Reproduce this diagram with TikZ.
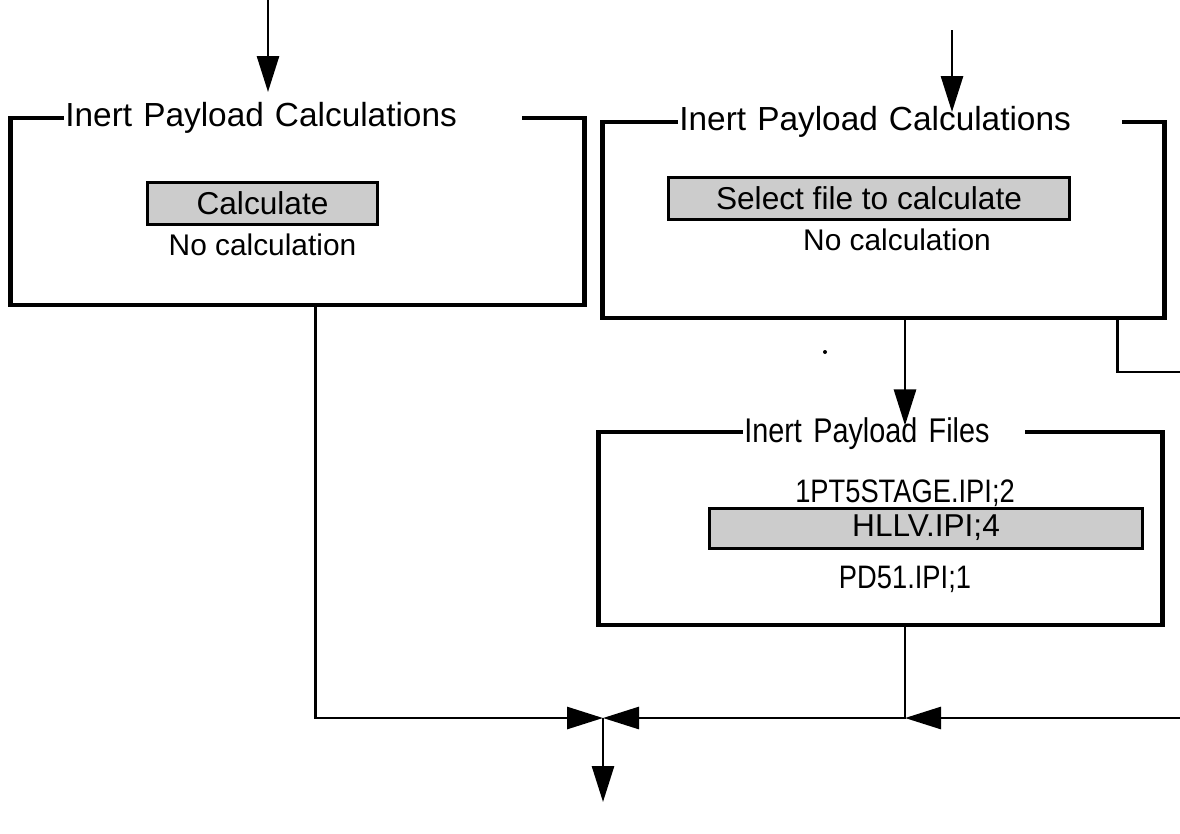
\documentclass[tikz,border=0pt]{standalone}
\usepackage{fontspec}
\setmainfont{Liberation Sans}
\newfontfamily\narrowfont[FakeStretch=0.84]{Liberation Sans}
\usetikzlibrary{arrows.meta,positioning}
\tikzset{
  panel/.style={draw,line width=2.8pt},
  paneltitle/.style={fill=white,anchor=base west,inner xsep=0.02cm,inner ysep=1pt,align=left,font=\fontsize{19}{22}\selectfont},
  button/.style={draw,line width=1.7pt,fill=gray!40,minimum height=0.84cm,inner sep=0pt,font=\fontsize{18}{21}\selectfont},
  entry/.style={inner sep=0pt,font=\fontsize{17}{20}\selectfont},
  flow/.style={line width=1.6pt,-{Triangle[length=0.72cm,width=0.44cm]}},
  link/.style={line width=1.6pt},
}
\begin{document}
\begin{tikzpicture}[x=0.02cm,y=-0.02cm]
  \useasboundingbox (0,0) rectangle (1180,833);
  % left panel
  \node[panel,minimum width=11.5cm,minimum height=3.74cm] (calcA) at (297.5,211.5) {};
  \node[paneltitle,text width=9.12cm] (calcAtitle) at (64,126) {Inert Payload Calculations};
  \node[button,minimum width=4.62cm] (calcAbtn) at (262.5,203.5) {Calculate};
  \node[entry] (calcAstate) at (262.5,245) {No calculation};
  % right panel
  \node[panel,minimum width=11.26cm,minimum height=3.92cm] (calcB) at (883.5,220) {};
  \node[paneltitle,text width=8.84cm] (calcBtitle) at (678,130) {Inert Payload Calculations};
  \node[button,minimum width=8.04cm] (calcBbtn) at (869,198.5) {Select file to calculate};
  \node[entry] (calcBstate) at (897,240) {No calculation};
  % files panel
  \node[panel,minimum width=11.3cm,minimum height=3.86cm] (files) at (880.5,528.5) {};
  \node[paneltitle,text width=5.6cm,font=\fontsize{19.5}{22}\narrowfont] (filestitle) at (743,442) {Inert Payload Files};
  \node[entry,font=\fontsize{18.5}{21}\narrowfont] (file1) at (905,493) {1PT5STAGE.IPI;2};
  \node[button,minimum width=8.66cm,minimum height=0.8cm] (file2) at (926,528) {HLLV.IPI;4};
  \node[entry,font=\fontsize{18.5}{21}\narrowfont] (file3) at (905,579) {PD51.IPI;1};
  % connectors
  \coordinate (inA) at (268,0);
  \coordinate (inB) at (952,30);
  \coordinate (join) at (603,718);
  \coordinate (mergeB) at (905,718);
  \coordinate (side) at (1180,372);
  \coordinate (sideIn) at (1180,718);
  \coordinate (out) at (603,802);
  \draw[flow] (inA) -- ++(0,92);
  \draw[flow] (inB) -- ++(0,82);
  \draw[flow] (calcA.south west) ++(308,0) |- (join);
  \draw[flow] (calcB.south -| mergeB) -- ++(0,105);
  \draw[link] (calcB.south east) ++(-50,0) |- (side);
  \draw[flow] (files.south -| mergeB) |- (join);
  \draw[flow] (sideIn) -- (mergeB);
  \draw[flow] (join) -- (out);
  \fill (825,352) circle (2);
\end{tikzpicture}
\end{document}
